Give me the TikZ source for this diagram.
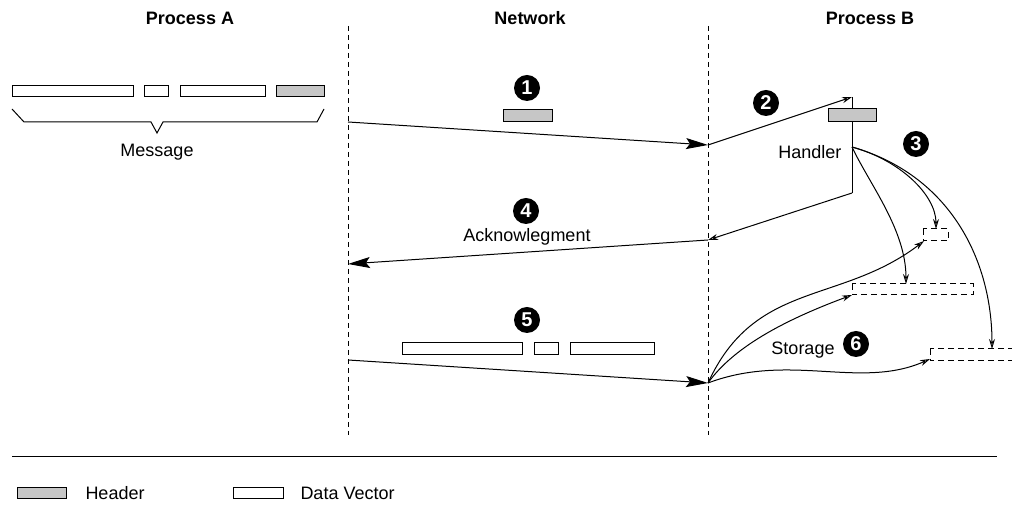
\documentclass[tikz,border=0pt]{standalone}
\usepackage{fontspec}
\setmainfont{Liberation Sans}
\usetikzlibrary{arrows.meta}
\begin{document}
\begin{tikzpicture}[x=0.5pt, y=-0.5pt, line width=0.5pt,
    node font=\fontsize{9}{11}\selectfont,
    header/.style={draw, fill=gray!45},
    datavec/.style={draw, fill=white},
    store/.style={draw, dash pattern=on 3pt off 2pt},
    lane/.style={dash pattern=on 2.5pt off 2pt},
    badge/.style={circle, fill=black, text=white, inner sep=0pt,
      minimum size=13pt, font=\fontsize{10}{12}\selectfont\bfseries},
    big/.style={-{Stealth[length=11pt, width=5.5pt, inset=2pt]}},
    small/.style={-{Stealth[open, length=5pt, width=3pt]}}]
  \useasboundingbox (0,0) rectangle (1012,506);
  % titles and lanes
  \node [font=\bfseries] (ta) at (190,18) {Process A};
  \node [font=\bfseries] (tn) at (530,18) {Network};
  \node [font=\bfseries] (tb) at (870,18) {Process B};
  \draw [lane] (348,26) -- (348,435);
  \draw [lane] (708,26) -- (708,435);
  % message in process A
  \foreach \xa/\xb in {12/133, 144/168, 180/265}
    \draw [datavec] (\xa,86) rectangle (\xb,97);
  \draw [header] (276,86) rectangle (324,97);
  \draw (12,109) -- (24,122) -- (151,122) -- (157,133)
    -- (163,122) -- (317,122) -- (324,109);
  \node (msg) at (157,152) {Message};
  % 1: header goes out
  \coordinate (a1) at (348,122);
  \coordinate (b1) at (708,145);
  \draw [header] (503,110) rectangle (552,122);
  \node [badge] (n1) at (527,88) {1};
  \draw [big] (a1) -- (b1);
  % 2: header reaches the handler
  \coordinate (h0) at (852,97);
  \coordinate (h1) at (852,147);
  \coordinate (h2) at (852,193);
  \draw (h0) -- (h2);
  \draw [small] (b1) -- (h0);
  \draw [header] (828,109) rectangle (876,122);
  \node [badge] (n2) at (766,103) {2};
  \node [anchor=east] (hd) at (848,152) {Handler};
  % storage
  \draw [store] (923,229) rectangle (948,241);
  \draw [store] (852,284) rectangle (973,295);
  \draw [store] (930,349) rectangle (1030,361);
  \coordinate (s1) at (936,229);
  \coordinate (s2) at (906,284);
  \coordinate (s3) at (992,349);
  \coordinate (t1) at (924,241);
  \coordinate (t2) at (852,295);
  \coordinate (t3) at (930,359);
  % 3: handler places the data
  \node [badge] (n3) at (916,144) {3};
  \draw [small] (h1) .. controls (900,160) and (936,195) .. (s1);
  \draw [small] (h1) .. controls (870,185) and (906,230) .. (s2);
  \draw [small] (h1) .. controls (950,175) and (992,260) .. (s3);
  % 4: acknowlegment
  \coordinate (b4) at (708,240);
  \coordinate (a4) at (348,264);
  \draw [small] (h2) -- (b4);
  \draw [big] (b4) -- (a4);
  \node [badge] (n4) at (526,211) {4};
  \node (ack) at (527,237) {Acknowlegment};
  % 5: data vectors
  \foreach \xa/\xb in {402/522, 534/558, 570/654}
    \draw [datavec] (\xa,343) rectangle (\xb,355);
  \node [badge] (n5) at (527,320) {5};
  \coordinate (a5) at (348,360);
  \coordinate (b5) at (708,383);
  \draw [big] (a5) -- (b5);
  % 6: data goes to storage
  \draw [small] (b5) .. controls (755,280) and (840,305) .. (t1);
  \draw [small] (b5) .. controls (735,345) and (790,318) .. (t2);
  \draw [small] (b5) .. controls (790,352) and (860,390) .. (t3);
  \node (stor) at (803,350) {Storage};
  \node [badge] (n6) at (856,344) {6};
  % legend
  \draw (12,457) -- (997,457);
  \draw [header] (17,488) rectangle (66,499);
  \node [anchor=west] (lh) at (79,493) {Header};
  \draw [datavec] (233,488) rectangle (283,499);
  \node [anchor=west] (ld) at (294,493) {Data Vector};
\end{tikzpicture}
\end{document}
